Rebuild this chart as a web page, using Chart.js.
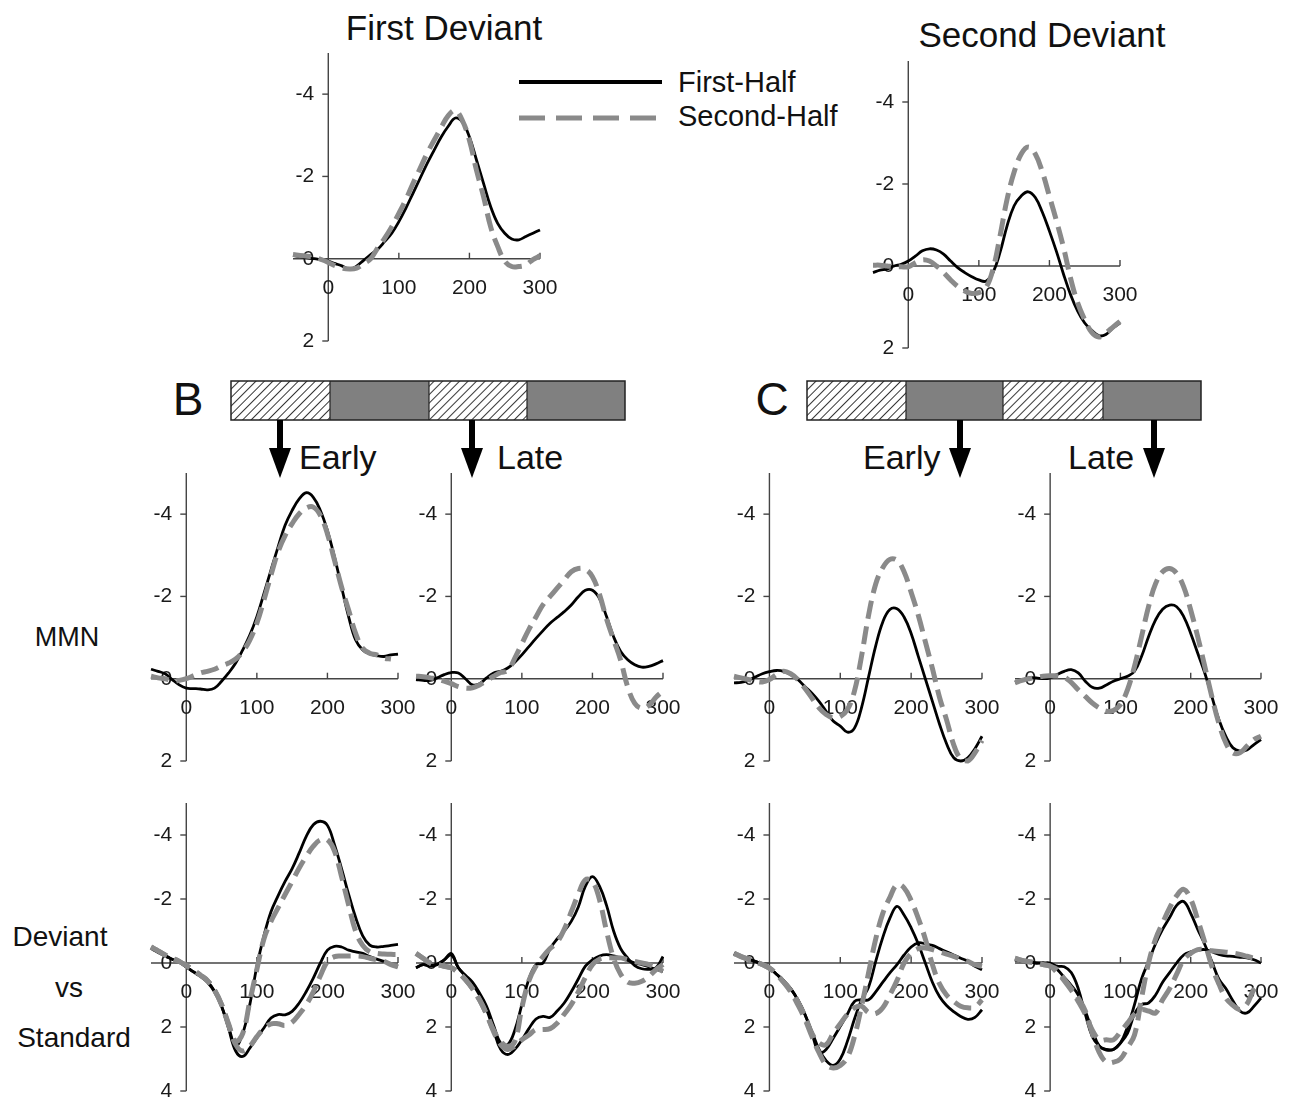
<!DOCTYPE html>
<html>
<head>
<meta charset="utf-8">
<script src="https://cdn.jsdelivr.net/npm/chart.js@4.4.1/dist/chart.umd.min.js"></script>
<style>
  body { margin: 0; background: #fff; }
  #fig { position: relative; width: 1290px; height: 1100px; overflow: hidden;
         font-family: "Liberation Sans", Arial, sans-serif; color: #111; }
  .lbl { position: absolute; white-space: nowrap; line-height: 1; }
  .c { transform: translate(-50%, -50%); }
  .l { transform: translate(0, -50%); }
  canvas { position: absolute; }
  svg { position: absolute; left: 0; top: 0; }
</style>
</head>
<body>
<div id="fig">
  <svg width="1290" height="1100">
    <defs>
      <pattern id="hatch" width="6" height="6" patternUnits="userSpaceOnUse" patternTransform="rotate(45)">
        <line x1="0" y1="0" x2="0" y2="6" stroke="#111" stroke-width="1.7"/>
      </pattern>
    </defs>
    <!-- legend -->
    <line x1="519" y1="82" x2="662" y2="82" stroke="#000" stroke-width="4"/>
    <line x1="519" y1="118" x2="662" y2="118" stroke="#8a8a8a" stroke-width="5" stroke-dasharray="26 11"/>
    <!-- B bar -->
    <rect x="231" y="381" width="99" height="39" fill="url(#hatch)"/>
    <rect x="330" y="381" width="99" height="39" fill="#808080"/>
    <rect x="429" y="381" width="98" height="39" fill="url(#hatch)"/>
    <rect x="527" y="381" width="98" height="39" fill="#808080"/>
    <rect x="231" y="381" width="394" height="39" fill="none" stroke="#222" stroke-width="1.5"/>
    <line x1="330" y1="381" x2="330" y2="420" stroke="#222" stroke-width="1.2"/>
    <line x1="429" y1="381" x2="429" y2="420" stroke="#222" stroke-width="1.2"/>
    <line x1="527" y1="381" x2="527" y2="420" stroke="#222" stroke-width="1.2"/>
    <!-- C bar -->
    <rect x="807" y="381" width="99" height="39" fill="url(#hatch)"/>
    <rect x="906" y="381" width="97" height="39" fill="#808080"/>
    <rect x="1003" y="381" width="100" height="39" fill="url(#hatch)"/>
    <rect x="1103" y="381" width="98" height="39" fill="#808080"/>
    <rect x="807" y="381" width="394" height="39" fill="none" stroke="#222" stroke-width="1.5"/>
    <line x1="906" y1="381" x2="906" y2="420" stroke="#222" stroke-width="1.2"/>
    <line x1="1003" y1="381" x2="1003" y2="420" stroke="#222" stroke-width="1.2"/>
    <line x1="1103" y1="381" x2="1103" y2="420" stroke="#222" stroke-width="1.2"/>
    <!-- arrows -->
    <g fill="#000">
      <rect x="277" y="420" width="6" height="30"/><polygon points="269,448 291,448 280,478"/>
      <rect x="469" y="420" width="6" height="30"/><polygon points="461,448 483,448 472,478"/>
      <rect x="957" y="420" width="6" height="30"/><polygon points="949,448 971,448 960,478"/>
      <rect x="1151" y="420" width="6" height="30"/><polygon points="1143,448 1165,448 1154,478"/>
    </g>
  </svg>

  <div class="lbl c" style="left:444px;top:27px;font-size:35px">First Deviant</div>
  <div class="lbl c" style="left:1042px;top:34px;font-size:35px">Second Deviant</div>
  <div class="lbl l" style="left:678px;top:82px;font-size:29px">First-Half</div>
  <div class="lbl l" style="left:678px;top:116px;font-size:29px">Second-Half</div>
  <div class="lbl c" style="left:188px;top:399px;font-size:46px">B</div>
  <div class="lbl c" style="left:772px;top:399px;font-size:46px">C</div>
  <div class="lbl l" style="left:299px;top:457px;font-size:34px">Early</div>
  <div class="lbl l" style="left:497px;top:457px;font-size:34px">Late</div>
  <div class="lbl l" style="left:863px;top:457px;font-size:34px">Early</div>
  <div class="lbl l" style="left:1068px;top:457px;font-size:34px">Late</div>
  <div class="lbl c" style="left:67px;top:637px;font-size:27px">MMN</div>
  <div class="lbl c" style="left:60px;top:937px;font-size:28px">Deviant</div>
  <div class="lbl c" style="left:69px;top:988px;font-size:28px">vs</div>
  <div class="lbl c" style="left:74px;top:1038px;font-size:28px">Standard</div>
</div>

<script>
// time points (ms)
const times = [-50, -40, -30, -20, -10, 0, 10, 20, 30, 40, 50, 60, 70, 80, 90, 100, 110, 120,
  130, 140, 150, 160, 170, 180, 190, 200, 210, 220, 230, 240, 250, 260, 270, 280, 290, 300];
const xTickLabels = [0, 100, 200, 300];
const yTicksMMN = [-4, -2, 0, 2];
const yTicksDvS = [-4, -2, 0, 2, 4];

// A: first / second deviant (uV)
const firstDevFirstHalf = [-0.08,-0.05,-0.02,0,0.03, 0.06,0.12,0.18,0.26,0.18,0.04,-0.1,-0.23,-0.42,-0.62,
  -0.9,-1.23,-1.59,-1.95,-2.31,-2.64,-2.96,-3.22,-3.42,-3.32, -2.96,-2.4,-1.83,-1.27,-0.86,-0.62,-0.48,-0.46,-0.54,-0.62, -0.7];
const firstDevSecondHalf = [-0.1,-0.08,-0.06,-0.04,0.02, 0.09,0.17,0.23,0.25,0.23,0.12,0,-0.26,-0.5,-0.78,
  -1.1,-1.44,-1.83,-2.19,-2.56,-2.88,-3.19,-3.48,-3.6,-3.36, -2.88,-2.15,-1.51,-0.78,-0.3,0.06,0.19,0.19,0.15,0.02, -0.07];
const secondDevFirstHalf = [0.16,0.1,0.07,0,-0.04, -0.12,-0.24,-0.37,-0.42,-0.39,-0.29,-0.12,0.04,0.16,0.26,
  0.34,0.37,0.16,-0.33,-0.98,-1.47,-1.71,-1.81,-1.67,-1.31, -0.85,-0.35,0.2,0.7,1.1,1.39,1.57,1.7,1.67,1.51, 1.39];
const secondDevSecondHalf = [-0.02,-0.02,0,0.02,0.02, 0.02,-0.08,-0.15,-0.12,0,0.16,0.34,0.5,0.61,0.67,
  0.65,0.53,0.08,-0.73,-1.63,-2.29,-2.73,-2.9,-2.73,-2.29, -1.7,-1.1,-0.45,0.3,0.9,1.31,1.62,1.73,1.63,1.49, 1.35];

// B / C: MMN
const mmnBEarlyFirst = [-0.23,-0.18,-0.12,0.02,0.15, 0.23,0.24,0.25,0.27,0.23,0.06,-0.14,-0.38,-0.7,-1.06,
  -1.51,-2.07,-2.64,-3.2,-3.73,-4.09,-4.37,-4.52,-4.41,-4.09, -3.6,-2.96,-2.23,-1.51,-0.94,-0.7,-0.6,-0.56,-0.54,-0.58, -0.6];
const mmnBEarlySecond = [-0.06,-0.02,0,0.05,0.04, 0,-0.07,-0.14,-0.18,-0.23,-0.31,-0.38,-0.48,-0.66,-0.94,
  -1.35,-1.91,-2.52,-3.08,-3.48,-3.77,-4.01,-4.15,-4.17,-3.97, -3.52,-2.88,-2.23,-1.67,-1.1,-0.74,-0.62,-0.58,-0.5,-0.48, null];
const mmnBLateFirst = [0.02,0.04,0.04,-0.02,-0.1, -0.15,-0.14,0,0.15,0.12,-0.02,-0.14,-0.18,-0.26,-0.4,
  -0.58,-0.78,-0.98,-1.17,-1.35,-1.49,-1.63,-1.79,-1.99,-2.15, -2.15,-1.95,-1.51,-1.02,-0.66,-0.46,-0.34,-0.28,-0.3,-0.36, -0.44];
const mmnBLateSecond = [-0.06,-0.05,-0.02,0.01,0.06, 0.12,0.19,0.23,0.22,0.15,0.05,-0.06,-0.15,-0.2,-0.5,
  -0.85,-1.2,-1.5,-1.8,-2.0,-2.2,-2.4,-2.6,-2.68,-2.66, -2.48,-2.05,-1.45,-0.95,-0.45,0.2,0.6,0.72,0.65,0.45, 0.3];
const mmnCEarlyFirst = [0.1,0.09,0.04,-0.04,-0.12, -0.17,-0.2,-0.18,-0.1,0.02,0.19,0.35,0.55,0.79,1.03,
  1.15,1.3,1.2,0.7,-0.05,-0.8,-1.38,-1.68,-1.7,-1.5, -1.1,-0.55,0,0.55,1.1,1.58,1.92,2.0,1.92,1.7, 1.4];
const mmnCEarlySecond = [-0.06,-0.02,0.02,0.06,0.08, 0.02,-0.1,-0.18,-0.12,0.02,0.23,0.47,0.71,0.87,0.95,
  0.92,0.75,0.3,-0.55,-1.55,-2.3,-2.7,-2.9,-2.88,-2.6, -2.1,-1.55,-0.9,-0.25,0.45,1.0,1.6,1.95,2.0,1.8, 1.5];
const mmnCLateFirst = [0.09,0.03,-0.02,-0.02,0, -0.02,-0.1,-0.18,-0.22,-0.14,0.06,0.21,0.23,0.15,0.06,
  0,-0.06,-0.18,-0.54,-1.02,-1.43,-1.69,-1.79,-1.75,-1.51, -1.1,-0.62,-0.14,0.43,0.99,1.4,1.68,1.76,1.73,1.6, 1.48];
const mmnCLateSecond = [0.1,0.04,0,-0.03,-0.06, -0.07,-0.07,-0.04,0.09,0.27,0.43,0.59,0.71,0.79,0.77,
  0.63,0.27,-0.3,-1.02,-1.75,-2.31,-2.6,-2.68,-2.56,-2.23, -1.67,-1.02,-0.3,0.43,1.08,1.56,1.8,1.8,1.64,1.48, 1.4];

// Deviant vs Standard
const dvsBEarlyDevFirst = [-0.47,-0.35,-0.22,-0.12,-0.02, 0.12,0.28,0.42,0.6,0.9,1.35,2.0,2.6,2.2,1.3,
  0.1,-0.85,-1.6,-2.1,-2.55,-2.95,-3.44,-3.96,-4.32,-4.43, -4.3,-3.7,-2.95,-2.15,-1.42,-0.85,-0.56,-0.5,-0.52,-0.55, -0.58];
const dvsBEarlyDevSecond = [-0.5,-0.38,-0.25,-0.15,-0.05, 0.08,0.22,0.38,0.55,0.85,1.3,1.9,2.45,2.2,1.2,
  0.2,-0.75,-1.3,-1.72,-2.14,-2.55,-2.97,-3.33,-3.65,-3.85, -3.85,-3.5,-2.7,-1.82,-0.99,-0.55,-0.35,-0.3,-0.28,-0.27, -0.27];
const dvsBEarlyStdFirst = [-0.45,-0.33,-0.22,-0.12,-0.02, 0.12,0.27,0.4,0.58,0.88,1.35,2.05,2.75,2.92,2.66,
  2.34,2.03,1.72,1.61,1.62,1.51,1.25,0.89,0.47,0, -0.4,-0.52,-0.5,-0.4,-0.35,-0.3,-0.2,-0.12,-0.05,0.05, 0.1];
const dvsBEarlyStdSecond = [-0.5,-0.38,-0.25,-0.15,-0.05, 0.08,0.22,0.38,0.55,0.85,1.3,1.95,2.55,2.75,2.6,
  2.3,2.05,1.9,1.9,1.95,1.85,1.6,1.3,0.9,0.4, -0.05,-0.2,-0.22,-0.22,-0.22,-0.2,-0.15,-0.1,-0.05,0.05, 0.12];
const dvsBLateDevFirst = [0.15,0.05,0.1,0.05,-0.1, -0.3,0.15,0.38,0.6,0.94,1.35,1.95,2.5,2.55,2.1,
  1.3,0.5,0.05,0,-0.45,-0.75,-1.0,-1.3,-1.75,-2.4, -2.7,-2.4,-1.8,-1.0,-0.45,-0.15,0.08,0.18,0.2,0.15, -0.2];
const dvsBLateDevSecond = [-0.3,-0.15,0,0.05,0.1, 0.15,0.3,0.52,0.8,1.15,1.6,2.1,2.45,2.6,2.45,
  1.4,0.55,0.1,-0.2,-0.45,-0.65,-1.05,-1.6,-2.15,-2.6, -2.55,-1.98,-1.0,-0.15,0.35,0.6,0.63,0.57,0.42,0.21, 0.05];
const dvsBLateStdFirst = [0.15,0.05,0.08,0.04,-0.1, -0.25,0.15,0.4,0.65,1.0,1.45,2.1,2.7,2.86,2.7,
  2.4,2.05,1.75,1.67,1.7,1.5,1.25,0.9,0.5,0.1, -0.1,-0.22,-0.26,-0.22,-0.15,-0.08,0,0.05,0.12,0.2, 0.26];
const dvsBLateStdSecond = [-0.3,-0.15,0,0.05,0.1, 0.15,0.3,0.52,0.8,1.15,1.6,2.15,2.55,2.7,2.6,
  2.4,2.25,2.08,2.08,2.05,1.88,1.6,1.3,0.9,0.45, 0.05,-0.12,-0.16,-0.16,-0.16,-0.1,-0.05,0,0.05,0.15, 0.26];
const dvsCEarlyDevFirst = [-0.3,-0.2,-0.12,-0.05,0.05, 0.16,0.35,0.55,0.8,1.15,1.6,2.15,2.7,3.05,3.2,
  3.0,2.45,1.75,1.15,0.75,-0.05,-0.8,-1.4,-1.77,-1.5, -1.1,-0.6,0,0.6,1.05,1.33,1.52,1.67,1.76,1.7, 1.46];
const dvsCEarlyDevSecond = [-0.3,-0.2,-0.12,-0.05,0.05, 0.16,0.35,0.6,0.9,1.3,1.75,2.3,2.8,3.18,3.28,
  3.2,2.95,2.3,1.35,0.3,-0.75,-1.55,-2.05,-2.45,-2.35, -1.95,-1.4,-0.75,0.05,0.65,1.0,1.2,1.35,1.4,1.38, 1.15];
const dvsCEarlyStdFirst = [-0.3,-0.2,-0.12,-0.05,0.05, 0.16,0.35,0.55,0.8,1.15,1.6,2.2,2.8,2.7,2.35,
  1.98,1.6,1.2,1.15,1.15,0.9,0.6,0.31,0.05,-0.25, -0.5,-0.63,-0.6,-0.55,-0.45,-0.35,-0.25,-0.15,-0.05,0.1, 0.21];
const dvsCEarlyStdSecond = [-0.3,-0.2,-0.12,-0.05,0.05, 0.16,0.35,0.6,0.85,1.2,1.65,2.2,2.5,2.55,2.2,
  1.9,1.6,1.4,1.35,1.55,1.58,1.4,1.0,0.55,0, -0.3,-0.45,-0.47,-0.42,-0.35,-0.28,-0.21,-0.12,-0.05,0.05, 0.1];
const dvsCLateDevFirst = [-0.1,-0.05,-0.02,0,0, 0,0.1,0.12,0.3,0.8,1.6,2.3,2.6,2.72,2.7,
  2.5,2.0,1.3,0.5,-0.05,-0.6,-1.05,-1.42,-1.8,-1.92, -1.55,-1.05,-0.58,-0.05,0.5,0.8,1.18,1.5,1.56,1.35, 1.1];
const dvsCLateDevSecond = [-0.15,-0.08,-0.04,0,0.05, 0.1,0.2,0.5,0.8,1.1,1.5,2.2,2.8,3.1,3.1,
  3.0,2.65,2.25,1.1,0,-0.75,-1.25,-1.72,-2.1,-2.3, -2.0,-1.35,-0.65,0.1,0.65,1.1,1.32,1.45,1.28,0.83, 0.68];
const dvsCLateStdFirst = [-0.1,-0.05,-0.02,0,0, 0.05,0.2,0.45,0.7,1.0,1.5,2.1,2.6,2.7,2.7,
  2.5,2.2,1.6,1.3,1.25,1.0,0.6,0.3,0,-0.25, -0.35,-0.4,-0.42,-0.35,-0.27,-0.22,-0.21,-0.18,-0.16,-0.1, 0];
const dvsCLateStdSecond = [-0.15,-0.08,-0.04,0,0.05, 0.1,0.3,0.55,0.85,1.2,1.6,2.1,2.4,2.4,2.4,
  2.15,1.88,1.6,1.46,1.5,1.56,1.15,0.8,0.35,-0.1, -0.3,-0.42,-0.42,-0.38,-0.36,-0.34,-0.31,-0.27,-0.21,-0.15, -0.1];

const BLACK = '#000';
const GRAY = '#8a8a8a';

// draws the crossing axes (y axis at 0 ms, x axis at 0 uV) with the chart's scales
const crossAxes = {
  id: 'crossAxes',
  beforeDatasetsDraw(chart, args, opts) {
    const { ctx, scales: { x, y } } = chart;
    const ax = x.getPixelForValue(0);
    const ay = y.getPixelForValue(0);
    ctx.save();
    ctx.strokeStyle = '#444';
    ctx.lineWidth = 1.4;
    ctx.beginPath();
    ctx.moveTo(ax, y.getPixelForValue(y.min));
    ctx.lineTo(ax, y.getPixelForValue(y.max));
    ctx.stroke();
    ctx.beginPath();
    ctx.moveTo(x.getPixelForValue(x.min), ay);
    ctx.lineTo(x.getPixelForValue(x.max), ay);
    ctx.stroke();

    ctx.font = '21px "Liberation Sans", Arial, sans-serif';
    ctx.fillStyle = '#1a1a1a';
    ctx.textBaseline = 'middle';
    ctx.textAlign = 'right';
    opts.yTicks.forEach(v => {
      const py = y.getPixelForValue(v);
      ctx.beginPath(); ctx.moveTo(ax - 6, py); ctx.lineTo(ax, py); ctx.stroke();
      ctx.fillText(String(v), ax - 14, py);
    });
    ctx.textAlign = 'center';
    xTickLabels.forEach(v => {
      const px = x.getPixelForValue(v);
      if (v !== 0) { ctx.beginPath(); ctx.moveTo(px, ay); ctx.lineTo(px, ay - 6); ctx.stroke(); }
      ctx.fillText(String(v), px, ay + 29);
    });
    ctx.restore();
  }
};

const PAD = { left: 60, right: 20, top: 12, bottom: 12 };

function makePanel(box, yMax, yTicks, lines) {
  const cv = document.createElement('canvas');
  const w = box.xR - box.xL + PAD.left + PAD.right;
  const h = box.yB - box.yT + PAD.top + PAD.bottom;
  cv.width = w; cv.height = h;
  cv.style.left = (box.xL - PAD.left) + 'px';
  cv.style.top = (box.yT - PAD.top) + 'px';
  cv.style.width = w + 'px'; cv.style.height = h + 'px';
  document.getElementById('fig').appendChild(cv);

  new Chart(cv, {
    type: 'line',
    data: {
      datasets: lines.map(l => ({
        data: times.map((t, i) => ({ x: t, y: l.values[i] })),
        borderColor: l.color,
        borderWidth: l.color === GRAY ? 5 : 2.8,
        borderDash: l.color === GRAY ? [18, 8] : [],
        pointRadius: 0,
        tension: 0.4,
        fill: false,
        clip: false
      }))
    },
    options: {
      responsive: false,
      animation: false,
      events: [],
      layout: { padding: PAD },
      plugins: { legend: { display: false }, tooltip: { enabled: false }, crossAxes: { yTicks } },
      scales: {
        x: { type: 'linear', min: -50, max: 300, display: false },
        y: { type: 'linear', min: -5, max: yMax, reverse: true, display: false }
      }
    },
    plugins: [crossAxes]
  });
}

// gray (second half) listed first so it is drawn on top of black
makePanel({ xL: 293, xR: 540, yT: 53, yB: 341 }, 2, yTicksMMN, [
  { values: firstDevSecondHalf, color: GRAY }, { values: firstDevFirstHalf, color: BLACK }]);
makePanel({ xL: 873, xR: 1120, yT: 61, yB: 348 }, 2, yTicksMMN, [
  { values: secondDevSecondHalf, color: GRAY }, { values: secondDevFirstHalf, color: BLACK }]);

makePanel({ xL: 151, xR: 398, yT: 473, yB: 761 }, 2, yTicksMMN, [
  { values: mmnBEarlySecond, color: GRAY }, { values: mmnBEarlyFirst, color: BLACK }]);
makePanel({ xL: 416, xR: 663, yT: 473, yB: 761 }, 2, yTicksMMN, [
  { values: mmnBLateSecond, color: GRAY }, { values: mmnBLateFirst, color: BLACK }]);
makePanel({ xL: 734, xR: 982, yT: 473, yB: 761 }, 2, yTicksMMN, [
  { values: mmnCEarlySecond, color: GRAY }, { values: mmnCEarlyFirst, color: BLACK }]);
makePanel({ xL: 1015, xR: 1261, yT: 473, yB: 761 }, 2, yTicksMMN, [
  { values: mmnCLateSecond, color: GRAY }, { values: mmnCLateFirst, color: BLACK }]);

makePanel({ xL: 151, xR: 398, yT: 803, yB: 1091 }, 4, yTicksDvS, [
  { values: dvsBEarlyDevSecond, color: GRAY }, { values: dvsBEarlyStdSecond, color: GRAY },
  { values: dvsBEarlyDevFirst, color: BLACK }, { values: dvsBEarlyStdFirst, color: BLACK }]);
makePanel({ xL: 416, xR: 663, yT: 803, yB: 1091 }, 4, yTicksDvS, [
  { values: dvsBLateDevSecond, color: GRAY }, { values: dvsBLateStdSecond, color: GRAY },
  { values: dvsBLateDevFirst, color: BLACK }, { values: dvsBLateStdFirst, color: BLACK }]);
makePanel({ xL: 734, xR: 982, yT: 803, yB: 1091 }, 4, yTicksDvS, [
  { values: dvsCEarlyDevSecond, color: GRAY }, { values: dvsCEarlyStdSecond, color: GRAY },
  { values: dvsCEarlyDevFirst, color: BLACK }, { values: dvsCEarlyStdFirst, color: BLACK }]);
makePanel({ xL: 1015, xR: 1261, yT: 803, yB: 1091 }, 4, yTicksDvS, [
  { values: dvsCLateDevSecond, color: GRAY }, { values: dvsCLateStdSecond, color: GRAY },
  { values: dvsCLateDevFirst, color: BLACK }, { values: dvsCLateStdFirst, color: BLACK }]);
</script>
</body>
</html>
